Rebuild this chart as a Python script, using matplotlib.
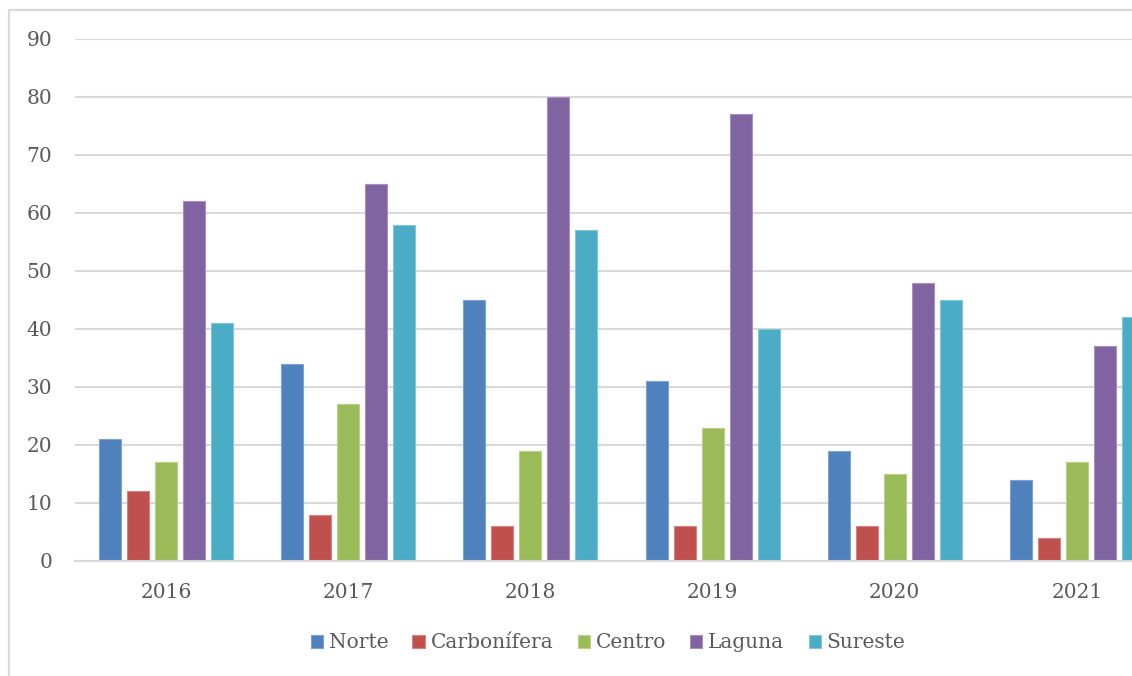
import matplotlib
matplotlib.use("Agg")
import matplotlib.pyplot as plt
import numpy as np

# Años y regiones
years = ["2016", "2017", "2018", "2019", "2020", "2021"]
regions = ["Norte", "Carbonífera", "Centro", "Laguna", "Sureste"]

norte = [21, 34, 45, 31, 19, 14]
carbonifera = [12, 8, 6, 6, 6, 4]
centro = [17, 27, 19, 23, 15, 17]
laguna = [62, 65, 80, 77, 48, 37]
sureste = [41, 58, 57, 40, 45, 42]

colors = ["#4F81BD", "#C0504D", "#9BBB59", "#8064A2", "#4BACC6"]
edges = ["#7FA3D1", "#D38380", "#B9D08A", "#A590BE", "#82C6D8"]

plt.rcParams["font.family"] = ["DejaVu Serif"]
TEXT = "#595959"
GRID = "#D9D9D9"
FS = 14.5


def main():
    fig = plt.figure(figsize=(11.32, 6.76), dpi=100)
    fig.patch.set_facecolor("white")

    # Borde del área del gráfico (se corta a la derecha y abajo)
    border = plt.Rectangle((9 / 1132, -0.5), 1.5, 1 - 10 / 676 + 0.5,
                           transform=fig.transFigure, facecolor="none",
                           edgecolor=GRID, linewidth=1.6)
    fig.patches.append(border)

    ax = fig.add_axes([75 / 1132, 1 - 561 / 676, 1093 / 1132, 522 / 676])

    series = [norte, carbonifera, centro, laguna, sureste]
    x = np.arange(len(years))
    pitch = 0.1537
    width = 0.121
    for i, vals in enumerate(series):
        offs = (i - 2) * pitch
        ax.bar(x + offs, vals, width, color=colors[i], edgecolor=edges[i],
               linewidth=0.8, label=regions[i], zorder=3)

    ax.set_xlim(-0.5, len(years) - 0.5)
    ax.set_ylim(0, 90)
    ax.set_yticks(range(0, 91, 10))
    ax.set_xticks(x)
    ax.set_xticklabels(years)

    ax.grid(axis="y", color=GRID, linewidth=1.5, zorder=0)
    ax.set_axisbelow(True)
    for s in ["top", "right", "left"]:
        ax.spines[s].set_visible(False)
    ax.spines["bottom"].set_color(GRID)
    ax.spines["bottom"].set_linewidth(1.5)
    ax.spines["bottom"].set_zorder(4)

    ax.tick_params(axis="both", length=0, labelsize=FS, colors=TEXT)
    ax.tick_params(axis="y", pad=16.5)
    ax.tick_params(axis="x", pad=15.5)

    fig.legend(loc="center", bbox_to_anchor=(608 / 1132, 1 - 643 / 676),
               ncol=5, frameon=False, fontsize=FS, labelcolor=TEXT,
               handlelength=0.6, handleheight=0.6, handletextpad=0.3,
               columnspacing=1.2)

    fig.savefig("out.png", dpi=100)


if __name__ == "__main__":
    main()
